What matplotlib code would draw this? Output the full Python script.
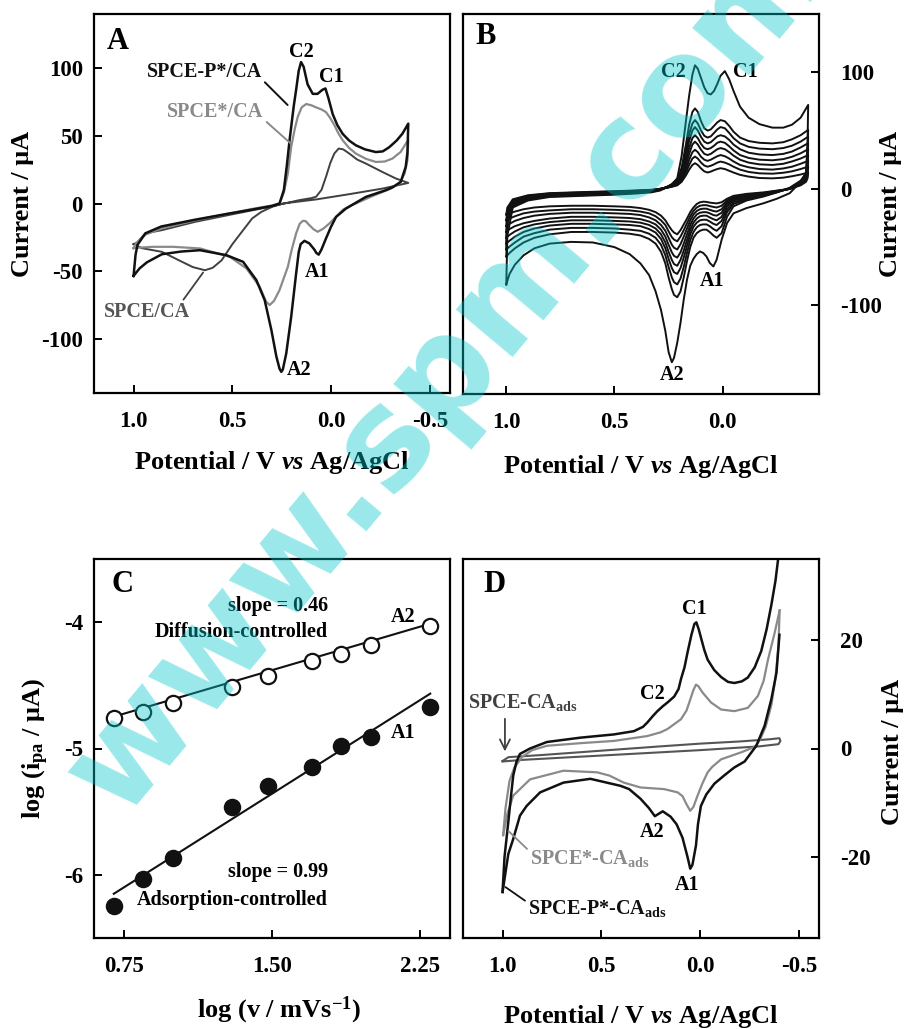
import matplotlib
matplotlib.use('Agg')
import matplotlib.pyplot as plt
from matplotlib.ticker import FixedLocator, FormatStrFormatter

plt.rcParams.update({
    'font.family': ['Liberation Serif', 'DejaVu Serif'],
    'font.weight': 'bold',
    'mathtext.fontset': 'custom',
    'mathtext.rm': 'Liberation Serif:bold',
    'mathtext.it': 'Liberation Serif:italic:bold',
    'mathtext.bf': 'Liberation Serif:bold',
    'axes.unicode_minus': False,
    'axes.linewidth': 1.6,
})

# ---------------- Panel A data (closed CV loops, E in V, I in uA) ----------------
A_E_PCA = [1.0, 0.99, 0.98, 0.94, 0.86, 0.69, 0.52, 0.40, 0.30, 0.262, 0.24, 0.225, 0.211, 0.19,
           0.178, 0.165, 0.153, 0.14, 0.12, 0.094, 0.07, 0.045, 0.03, 0.015, -0.007, -0.03, -0.057,
           -0.09, -0.124, -0.17, -0.225, -0.26, -0.292, -0.33, -0.359, -0.389,
           -0.385, -0.376, -0.351, -0.31, -0.275, -0.175, -0.074, -0.024, 0.002, 0.027, 0.05, 0.064,
           0.076, 0.086, 0.111, 0.136, 0.155, 0.165, 0.178, 0.203, 0.228, 0.245, 0.253, 0.262, 0.278,
           0.303, 0.337, 0.379, 0.446, 0.53, 0.664, 0.76, 0.857, 0.933, 0.97, 1.0]
A_I_PCA = [-53.5, -38, -30.5, -22, -17, -12, -7.5, -4.5, -1.8, 0, 10, 28, 47, 72,
           84, 98, 104.5, 101, 88, 81, 81, 84, 85, 78, 66, 58, 51.5,
           46.5, 43, 40, 38, 38.5, 41.5, 46.5, 51.5, 59,
           38, 27, 16, 12, 9.8, 4.9, -3.7, -9.9, -17.3, -25.8, -34, -37.8,
           -36.5, -34, -29.5, -27.6, -30, -36, -51.7, -83.7, -110.8, -122.5, -124.4, -122, -113,
           -93.6, -71.4, -56.6, -43.1, -38.2, -34.5, -35.5, -37.5, -43.5, -48, -53.5]

A_E_SCA = [1.0, 0.985, 0.94, 0.86, 0.69, 0.52, 0.40, 0.30, 0.262, 0.24, 0.22, 0.203, 0.185, 0.17,
           0.15, 0.127, 0.10, 0.077, 0.05, 0.027, 0.005, -0.015, -0.035, -0.057, -0.09, -0.124,
           -0.175, -0.225, -0.27, -0.309, -0.35, -0.389,
           -0.385, -0.37, -0.345, -0.3, -0.2, -0.1, -0.06, -0.04, 0.010, 0.04, 0.069, 0.09, 0.111,
           0.13, 0.144, 0.16, 0.178, 0.20, 0.22, 0.262, 0.29, 0.312, 0.33, 0.362, 0.429, 0.513,
           0.664, 0.8, 0.9, 0.96, 1.0]
A_I_SCA = [-33, -29, -23, -18.5, -12.5, -7.5, -4, -1.5, 0, 8, 22, 41.8, 55, 64,
           71, 73.5, 72.5, 71, 69.5, 67.5, 63, 58, 52, 46.8, 41, 36.9,
           33, 30.7, 31, 33.2, 38, 47,
           32, 22, 15, 11, 5, -1.5, -4.5, -7.4, -14.8, -18.5, -20.9, -19, -16,
           -13, -12.8, -15, -22.1, -34, -46.8, -64, -72, -75, -72.5, -61.6, -48, -39.4,
           -33.2, -32, -32, -32.5, -33]

A_E_CA = [1.0, 0.983, 0.94, 0.857, 0.69, 0.522, 0.354, 0.253, 0.161, 0.10, 0.077, 0.05, 0.027,
          0.005, -0.015, -0.037, -0.06, -0.091, -0.13, -0.175, -0.258, -0.326, -0.389,
          -0.258, -0.091, 0.077, 0.245, 0.30, 0.354, 0.40, 0.446, 0.50, 0.555, 0.60, 0.639,
          0.70, 0.756, 0.857, 0.958, 1.0]
A_I_CA = [-30, -29, -22, -19.7, -13.6, -8.6, -3.7, -0.5, 2.5, 4, 5, 10, 19.7,
          30, 36.9, 40.6, 40, 36.9, 32.5, 29.5, 23.3, 18.5, 15.2,
          11, 6.9, 3, 0, -2.5, -6.2, -11, -19.7, -30, -42, -47.5, -49.3,
          -47, -43, -35.7, -33, -30]

# ---------------- Panel B data (scan-rate series) ----------------
B_E_cath = [1.0, 0.995, 0.97, 0.9, 0.8, 0.65, 0.5, 0.4, 0.33, 0.29, 0.26, 0.235, 0.21, 0.19,
            0.17, 0.155, 0.14, 0.128, 0.115, 0.10, 0.085, 0.07, 0.055, 0.04, 0.025, 0.01, -0.01,
            -0.03, -0.05, -0.08, -0.12, -0.17, -0.23, -0.28, -0.32, -0.36, -0.395]
B_E_anod = [-0.395, -0.392, -0.385, -0.36, -0.31, -0.25, -0.19, -0.11, -0.05, -0.02,
            0.005, 0.028, 0.043, 0.06, 0.075, 0.09, 0.105, 0.12, 0.135, 0.15,
            0.165, 0.18, 0.195, 0.21, 0.225, 0.235, 0.25, 0.265, 0.285, 0.31,
            0.34, 0.38, 0.43, 0.5, 0.6, 0.7, 0.8, 0.87, 0.92, 0.96, 0.985, 1.0]

B_cath_200 = [-82, -40, -16, -10, -7, -6, -5, -4, -3, -1.5, 1, 4, 9, 28, 58, 80, 98, 106, 103, 95,
              87, 82, 81, 84, 90, 97, 101, 94, 84, 70.5, 61, 55.5, 52.5, 52.5, 55, 61, 72]
B_cath_100 = [-58, -30, -15, -9, -6.5, -5.5, -4.5, -3.5, -2.5, -1, 1.5, 4, 8, 18, 38, 55, 66, 69, 66,
              58, 52, 50, 51, 54, 57, 59, 58, 54, 49, 44, 41, 39.5, 39, 40, 42.5, 46, 50.6]
B_cath_70 = [-52, -28, -14, -8.5, -6, -5, -4, -3, -2, -0.5, 1.5, 3.5, 7, 15, 32, 47, 56, 59, 56,
             50, 45.5, 44, 45, 48, 51, 53, 52, 48, 43.5, 39, 36, 34.5, 34, 35, 37, 40.5, 44.8]
B_cath_50 = [-47, -26, -13, -8, -5.5, -4.5, -3.5, -2.5, -1.8, -0.5, 1.5, 3, 6, 13, 28, 41, 50, 53,
             50, 44.5, 40.5, 39, 40, 42.5, 45, 46, 45, 42, 38, 34, 31, 29.5, 29, 30, 32, 35.5, 39.2]
B_cath_30 = [-42, -24, -12, -7.5, -5, -4, -3, -2.2, -1.5, -0.3, 1.3, 2.8, 5, 11, 24, 35, 43.5, 46,
             43.5, 38.5, 35, 34, 35, 37, 39.5, 40.5, 39.5, 36.5, 33, 29, 26.5, 25, 24.5, 25.5,
             27.5, 30.5, 34]
B_cath_20 = [-37, -22, -11, -7, -4.7, -3.7, -2.8, -2, -1.3, -0.2, 1.2, 2.5, 4.5, 9.5, 20, 30, 38,
             40.5, 38, 33.5, 30, 29, 30, 32, 34, 35, 34, 31.5, 28.5, 25, 22.5, 21, 20.5, 21.5,
             23.5, 26, 29]
B_cath_10 = [-32, -20, -10, -6.5, -4.4, -3.4, -2.5, -1.8, -1.1, 0, 1, 2.2, 4, 8, 16.5, 25, 31.5,
             33.5, 31.5, 27.5, 25, 24, 25, 26.5, 28, 29, 28, 26, 23.5, 20.5, 18.5, 17, 16.5,
             17.5, 19, 21.5, 24]
B_cath_7 = [-27, -18, -9.5, -6, -4, -3.1, -2.3, -1.6, -1, 0, 0.9, 2, 3.5, 7, 14, 20.5, 26, 27.7,
            26, 22.5, 20, 19, 19.8, 21, 22.5, 23.4, 22.5, 21, 19, 16.5, 14.5, 13.3, 13, 13.8,
            15, 17, 19]
B_cath_5 = [-22, -16, -9, -5.5, -3.7, -2.8, -2, -1.4, -0.8, 0, 0.8, 1.8, 3, 6, 11.5, 16.5, 20.5,
            22, 20.5, 17.5, 15, 14, 14.8, 16, 17, 17.7, 17, 15.5, 14, 12, 10.5, 9.3, 9, 9.6,
            10.8, 12.3, 14]

B_anod_200 = [72, 40, 14, 6, -3.7, -8.5, -12.3, -16.5, -21, -29.4, -43.7, -60.8, -66.6, -63.5,
              -58, -55, -53.7, -56, -60, -66, -78, -95, -115, -132, -145, -148.8, -140, -122,
              -104, -88, -74, -64, -56, -50, -46, -45.5, -47, -51, -57, -65, -73, -82]
B_anod_100 = [50.6, 30, 13, 7, 1, -3, -6.5, -10, -15, -24, -38, -42, -40, -37, -35, -35, -36,
              -38, -42, -50, -62, -76, -88, -93, -91, -86, -76, -64, -54, -47, -43, -40, -38.5,
              -37.5, -37, -37, -39, -42, -46, -51, -55, -58]
B_anod_70 = [44.8, 26, 12, 6, 0.5, -3, -6, -9, -13, -20, -32, -36, -34.5, -32, -30.5, -30.5, -31,
             -33, -37, -44, -55, -67, -77, -82, -80, -76, -67, -57, -48, -42, -38.5, -36, -35,
             -34, -33.5, -33.5, -35, -38, -41, -46, -49.5, -52]
B_anod_50 = [39.2, 23, 11, 5.5, 0.3, -2.7, -5.5, -8, -11.5, -17.5, -27.5, -31, -30, -28, -26.5,
             -26.5, -27, -29, -32.5, -39, -49, -59, -68, -73, -71.5, -68, -60, -51, -43, -37.5,
             -34.5, -32, -31, -30.5, -30, -30, -31.5, -34, -37, -41, -44.5, -47]
B_anod_30 = [34, 20, 10, 5, 0, -2.5, -5, -7, -10, -15, -24, -27, -26, -24.5, -23, -23, -23.5,
             -25.5, -29, -35, -44, -53, -61, -66, -64.5, -61, -54, -46, -39, -34, -31, -29, -28,
             -27.5, -27, -27, -28.5, -30.5, -33, -36.5, -39.5, -42]
B_anod_20 = [29, 17, 9, 4.5, 0, -2.2, -4.5, -6.5, -9, -13, -20.5, -23, -22.5, -21, -20, -20,
             -20.5, -22, -25.5, -31, -39, -47, -54.5, -59, -57.5, -54.5, -48, -41, -35, -30.5,
             -28, -26, -25, -24.5, -24, -24, -25.5, -27.5, -29.5, -32, -34.5, -37]
B_anod_10 = [24, 14, 8, 4, 0, -2, -4, -5.8, -8, -11.5, -17.5, -19.5, -19, -18, -17, -17, -17.5,
             -19, -22, -27, -34, -41, -47.5, -52, -50.5, -48, -42, -36, -31, -27, -24.5, -22.5,
             -21.5, -21, -20.5, -20.5, -21.5, -23, -25, -27.5, -30, -32]
B_anod_7 = [19, 11, 7, 3.5, 0, -1.8, -3.5, -5, -7, -10, -14.5, -16, -15.5, -14.8, -14, -14,
            -14.5, -16, -19, -23.5, -29.5, -35.5, -41, -45, -43.5, -41.5, -36.5, -31, -27,
            -23.5, -21, -19.5, -18.5, -18, -17.5, -17.5, -18.5, -19.5, -21, -23.5, -25.5, -27]
B_anod_5 = [14, 9, 6, 3, 0, -1.5, -3, -4.3, -6, -8.5, -11.5, -12.5, -12.2, -11.8, -11.2, -11,
            -11.5, -13, -16, -20, -25.5, -30.5, -35.5, -39, -37.5, -35.5, -31.5, -27, -23, -20,
            -18, -16.5, -15.5, -15, -14.5, -14.5, -15, -16, -17.5, -19.5, -21, -22]

# ---------------- Panel C data ----------------
C_logv = [0.70, 0.85, 1.00, 1.30, 1.48, 1.70, 1.85, 2.00, 2.30]
C_logipa_A2 = [-4.76, -4.71, -4.64, -4.51, -4.43, -4.31, -4.25, -4.18, -4.03]
C_logipa_A1 = [-6.25, -6.03, -5.87, -5.46, -5.30, -5.15, -4.98, -4.91, -4.67]
C_fit_A2 = [0.46, -5.07]    # slope, intercept
C_fit_A1 = [0.99, -6.843]

# ---------------- Panel D data ----------------
D_E_P_cath = [1.0, 0.99, 0.971, 0.958, 0.946, 0.93, 0.912, 0.861, 0.776, 0.607, 0.437, 0.336, 0.29,
              0.268, 0.24, 0.217, 0.19, 0.166, 0.132, 0.11, 0.098, 0.08, 0.065, 0.045, 0.03, 0.02,
              0.008, -0.003, -0.02, -0.037, -0.07, -0.105, -0.14, -0.172, -0.21, -0.24, -0.275,
              -0.308, -0.335, -0.359, -0.38, -0.40]
D_I_P_cath = [-26.5, -20, -13.6, -9, -5, -2.5, -1, 0, 1.2, 2, 2.6, 3.2, 4,
              4.8, 6, 6.9, 7.8, 8.5, 9.6, 11, 12.8, 15, 17.7, 21, 23, 23.3,
              22, 20.5, 18.2, 16.4, 14.5, 13.2, 12.3, 12.1, 12.4, 13.1, 15,
              18, 22, 26.5, 31, 37]
D_E_P_anod = [-0.40, -0.385, -0.359, -0.325, -0.283, -0.224, -0.172, -0.12, -0.071, -0.03, -0.003,
              0.012, 0.022, 0.04, 0.051, 0.065, 0.09, 0.12, 0.15, 0.19, 0.23, 0.26, 0.302, 0.36,
              0.403, 0.556, 0.692, 0.81, 0.878, 0.912, 0.946, 0.971, 1.0]
D_I_P_anod = [21, 14, 9.1, 4.2, 0.5, -2.4, -3.5, -5, -6.5, -8.5, -10.6,
              -14, -17.9, -21.5, -22.2, -20, -16.5, -14, -12.6, -11.6, -12.5, -11, -9.3, -7.5,
              -6.9, -5.6, -6.3, -8.1, -10.6, -12.4, -16.7, -19.5, -26.5]

D_E_S_cath = [0.997, 0.985, 0.965, 0.94, 0.9, 0.85, 0.776, 0.6, 0.437, 0.268, 0.2, 0.166, 0.098,
              0.07, 0.056, 0.035, 0.022, 0.01, -0.012, -0.054, -0.105, -0.172, -0.24, -0.291,
              -0.32, -0.342, -0.376, -0.401]
D_I_S_cath = [-16, -11, -6, -3.5, -1.5, -0.3, 0.5, 1, 1.4, 2.3, 3.0, 3.6, 5.4,
              7, 8.5, 10.8, 11.8, 11.5, 10.3, 8.5, 7.2, 6.9, 7.5, 9.7,
              12.5, 16.4, 21.4, 25.5]
D_E_S_anod = [-0.401, -0.395, -0.38, -0.359, -0.33, -0.3, -0.275, -0.207, -0.105, -0.06, -0.037,
              -0.01, 0.014, 0.035, 0.051, 0.07, 0.09, 0.115, 0.183, 0.302, 0.387, 0.46, 0.522,
              0.692, 0.861, 0.946, 0.975, 0.997]
D_I_S_anod = [25.5, 19, 13, 8, 4, 1.5, 0.3, -0.7, -2, -3.4, -4.4,
              -6.5, -8.7, -10.8, -11.5, -10.3, -8.8, -8.1, -7.5, -7.2, -6.3, -5, -4.4,
              -4.1, -5.7, -8.7, -12, -16]

D_E_bare = [1.0, 0.97, 0.8, 0.5, 0.2, 0.0, -0.2, -0.35, -0.40, -0.405, -0.395, -0.3, 0.0, 0.3,
            0.6, 0.9, 1.0]
D_I_bare = [-2.3, -1.6, -1.2, -0.4, 0.4, 0.9, 1.3, 1.7, 1.9, 1.4, 0.8, 0.4, -0.3, -0.9,
            -1.5, -2.1, -2.4]

# ---------------- figure / layout ----------------
W, H = 906, 1029
fig = plt.figure(figsize=(W / 100, H / 100), dpi=100)


def box(x0, y0, x1, y1):
    return [x0 / W, 1 - y1 / H, (x1 - x0) / W, (y1 - y0) / H]


def fxy(x, y):
    return (x / W, 1 - y / H)


axA = fig.add_axes(box(94, 14, 450, 393))
axB = fig.add_axes(box(463, 14, 819, 394))
axC = fig.add_axes(box(94, 559, 450, 938))
axD = fig.add_axes(box(463, 559, 819, 938))

TICK = 16.5
LAB = 19
ANN = 14.5
LET = 22
BLACK = '#111111'
GRAY = '#8a8a8a'
DGRAY = '#404040'


def style(ax, side):
    ax.tick_params(axis='both', direction='in', length=6, width=1.4, labelsize=TICK)
    ax.tick_params(axis='x', pad=13, top=False)
    if side == 'left':
        ax.tick_params(axis='y', left=True, right=False, labelleft=True, labelright=False, pad=8)
    else:
        ax.tick_params(axis='y', left=False, right=True, labelleft=False, labelright=True, pad=15)
        ax.yaxis.set_label_position('right')
    for lab in ax.get_xticklabels() + ax.get_yticklabels():
        lab.set_fontweight('bold')


# ---------------- Panel A ----------------
axA.plot(A_E_CA, A_I_CA, color=DGRAY, lw=1.4)
axA.plot(A_E_SCA, A_I_SCA, color=GRAY, lw=1.6)
axA.plot(A_E_PCA, A_I_PCA, color=BLACK, lw=1.8)
axA.set_xlim(1.2, -0.6)
axA.set_ylim(-140, 140)
axA.xaxis.set_major_locator(FixedLocator([1.0, 0.5, 0.0, -0.5]))
axA.xaxis.set_major_formatter(FormatStrFormatter('%.1f'))
axA.yaxis.set_major_locator(FixedLocator([100, 50, 0, -50, -100]))
style(axA, 'left')
axA.text(1.134, 119.4, 'A', fontsize=LET, ha='left', va='center')
axA.text(0.153, 112, 'C2', fontsize=ANN, ha='center', va='center')
axA.text(0.0, 93.5, 'C1', fontsize=ANN, ha='center', va='center')
axA.text(0.073, -50.5, 'A1', fontsize=ANN, ha='center', va='center')
axA.text(0.161, -123, 'A2', fontsize=ANN, ha='center', va='center')
axA.text(0.933, 97.2, 'SPCE-P*/CA', fontsize=ANN, ha='left', va='center', color=BLACK)
axA.annotate('', xy=(0.211, 71.3), xytext=(0.346, 91),
             arrowprops=dict(arrowstyle='-', color=BLACK, lw=1.4))
axA.text(0.832, 67.7, 'SPCE*/CA', fontsize=ANN, ha='left', va='center', color=GRAY)
axA.annotate('', xy=(0.195, 43), xytext=(0.337, 61.5),
             arrowprops=dict(arrowstyle='-', color=GRAY, lw=1.4))
axA.text(1.151, -80, 'SPCE/CA', fontsize=ANN, ha='left', va='center', color='#555555')
axA.annotate('', xy=(0.64, -49.3), xytext=(0.756, -72.7),
             arrowprops=dict(arrowstyle='-', color=DGRAY, lw=1.3))
axA.set_xlabel('Potential / V $vs$ Ag/AgCl', fontsize=LAB, fontweight='bold', va='center')
axA.xaxis.set_label_coords(*fxy(272, 463), transform=fig.transFigure)
axA.set_ylabel('Current / μA', fontsize=LAB, fontweight='bold', va='center')
axA.yaxis.set_label_coords(*fxy(23, 204), transform=fig.transFigure)

# ---------------- Panel B ----------------
B_cath = [B_cath_200, B_cath_100, B_cath_70, B_cath_50, B_cath_30, B_cath_20, B_cath_10,
          B_cath_7, B_cath_5]
B_anod = [B_anod_200, B_anod_100, B_anod_70, B_anod_50, B_anod_30, B_anod_20, B_anod_10,
          B_anod_7, B_anod_5]
for ic, ia in zip(B_cath, B_anod):
    axB.plot(B_E_cath + B_E_anod, ic + ia, color=BLACK, lw=1.4)
axB.set_xlim(1.2, -0.445)
axB.set_ylim(-176, 150)
axB.xaxis.set_major_locator(FixedLocator([1.0, 0.5, 0.0]))
axB.xaxis.set_major_formatter(FormatStrFormatter('%.1f'))
axB.yaxis.set_major_locator(FixedLocator([100, 0, -100]))
style(axB, 'right')
axB.text(1.143, 130.5, 'B', fontsize=LET, ha='left', va='center')
axB.text(0.228, 100.5, 'C2', fontsize=ANN, ha='center', va='center')
axB.text(-0.103, 100.5, 'C1', fontsize=ANN, ha='center', va='center')
axB.text(0.051, -79.4, 'A1', fontsize=ANN, ha='center', va='center')
axB.text(0.232, -159.4, 'A2', fontsize=ANN, ha='center', va='center')
axB.set_xlabel('Potential / V $vs$ Ag/AgCl', fontsize=LAB, fontweight='bold', va='center')
axB.xaxis.set_label_coords(*fxy(641, 467), transform=fig.transFigure)
axB.set_ylabel('Current / μA', fontsize=LAB, fontweight='bold', va='center', rotation=90)
axB.yaxis.set_label_coords(*fxy(890, 204), transform=fig.transFigure)

# ---------------- Panel C ----------------
xfit = [C_logv[0], C_logv[-1]]
axC.plot(xfit, [C_fit_A2[0] * x + C_fit_A2[1] for x in xfit], color=BLACK, lw=1.5, zorder=2)
axC.plot(xfit, [C_fit_A1[0] * x + C_fit_A1[1] for x in xfit], color=BLACK, lw=1.5, zorder=2)
axC.plot(C_logv, C_logipa_A2, 'o', ms=11, mfc='white', mec=BLACK, mew=1.6, zorder=3)
axC.plot(C_logv, C_logipa_A1, 'o', ms=11, mfc=BLACK, mec=BLACK, mew=1.6, zorder=3)
axC.set_xlim(0.6, 2.4)
axC.set_ylim(-6.5, -3.5)
axC.xaxis.set_major_locator(FixedLocator([0.75, 1.50, 2.25]))
axC.xaxis.set_major_formatter(FormatStrFormatter('%.2f'))
axC.yaxis.set_major_locator(FixedLocator([-4, -5, -6]))
style(axC, 'left')
axC.text(0.689, -3.70, 'C', fontsize=LET, ha='left', va='center')
axC.text(1.783, -3.87, 'slope = 0.46', fontsize=ANN, ha='right', va='center')
axC.text(1.783, -4.08, 'Diffusion-controlled', fontsize=ANN, ha='right', va='center')
axC.text(2.161, -3.96, 'A2', fontsize=ANN, ha='center', va='center')
axC.text(2.161, -4.88, 'A1', fontsize=ANN, ha='center', va='center')
axC.text(1.783, -5.98, 'slope = 0.99', fontsize=ANN, ha='right', va='center')
axC.text(1.783, -6.20, 'Adsorption-controlled', fontsize=ANN, ha='right', va='center')
axC.set_xlabel('log (v / mVs$^{\\mathrm{-1}}$)', fontsize=LAB, fontweight='bold', va='center')
axC.xaxis.set_label_coords(*fxy(279, 1010), transform=fig.transFigure)
axC.set_ylabel('log (i$_{\\mathrm{pa}}$ / μA)', fontsize=LAB, fontweight='bold', va='center')
axC.yaxis.set_label_coords(*fxy(36, 749), transform=fig.transFigure)

# ---------------- Panel D ----------------
axD.plot(D_E_bare, D_I_bare, color='#555555', lw=1.5)
axD.plot(D_E_S_cath, D_I_S_cath, color=GRAY, lw=1.6)
axD.plot(D_E_S_anod, D_I_S_anod, color=GRAY, lw=1.6)
axD.plot(D_E_P_cath, D_I_P_cath, color=BLACK, lw=1.8)
axD.plot(D_E_P_anod, D_I_P_anod, color=BLACK, lw=1.8)
axD.set_xlim(1.2, -0.6)
axD.set_ylim(-35, 35)
axD.xaxis.set_major_locator(FixedLocator([1.0, 0.5, 0.0, -0.5]))
axD.xaxis.set_major_formatter(FormatStrFormatter('%.1f'))
axD.yaxis.set_major_locator(FixedLocator([20, 0, -20]))
style(axD, 'right')
axD.text(1.099, 30.3, 'D', fontsize=LET, ha='left', va='center')
axD.text(0.031, 25.7, 'C1', fontsize=ANN, ha='center', va='center')
axD.text(0.243, 10, 'C2', fontsize=ANN, ha='center', va='center')
axD.text(0.243, -15.5, 'A2', fontsize=ANN, ha='center', va='center')
axD.text(0.065, -25.3, 'A1', fontsize=ANN, ha='center', va='center')
axD.text(1.175, 8.5, 'SPCE-CA$_{\\mathrm{ads}}$', fontsize=ANN, ha='left', va='center',
         color='#404040')
axD.annotate('', xy=(0.988, -1.05), xytext=(0.988, 6.0),
             arrowprops=dict(arrowstyle='->', color='#404040', lw=1.3, mutation_scale=18))
axD.text(0.861, -20.4, 'SPCE*-CA$_{\\mathrm{ads}}$', fontsize=ANN, ha='left', va='center',
         color=GRAY)
axD.annotate('', xy=(0.98, -14.9), xytext=(0.866, -18.9),
             arrowprops=dict(arrowstyle='-', color=GRAY, lw=1.3))
axD.text(0.87, -29.6, 'SPCE-P*-CA$_{\\mathrm{ads}}$', fontsize=ANN, ha='left', va='center',
         color=BLACK)
axD.annotate('', xy=(0.997, -25.3), xytext=(0.875, -28.4),
             arrowprops=dict(arrowstyle='-', color=BLACK, lw=1.3))
axD.set_xlabel('Potential / V $vs$ Ag/AgCl', fontsize=LAB, fontweight='bold', va='center')
axD.xaxis.set_label_coords(*fxy(641, 1016), transform=fig.transFigure)
axD.set_ylabel('Current / μA', fontsize=LAB, fontweight='bold', va='center', rotation=90)
axD.yaxis.set_label_coords(*fxy(892, 752), transform=fig.transFigure)

# ---------------- watermark ----------------
fig.text(*fxy(120, 820), 'www.spm.com.cn', fontsize=98, family='DejaVu Sans',
         color=(0.0, 0.78, 0.80), alpha=0.4, rotation=50, rotation_mode='anchor',
         ha='left', va='baseline', zorder=20)

fig.savefig('out.png', dpi=100)
